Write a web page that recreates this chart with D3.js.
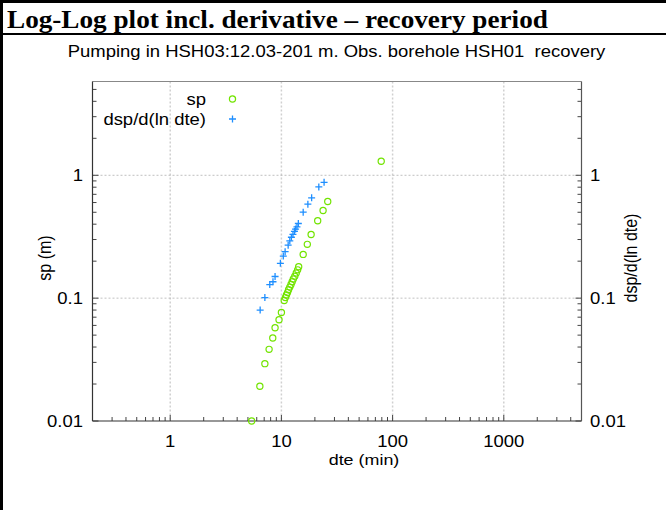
<!DOCTYPE html>
<html><head><meta charset="utf-8">
<script src="https://cdn.jsdelivr.net/npm/d3@7"></script>
<style>body{margin:0;background:#fff} svg{display:block}</style>
</head><body>
<script>
const headerText = "Log-Log plot incl. derivative \u2013 recovery period";
const subtitleText = "Pumping in HSH03:12.03-201 m. Obs. borehole HSH01  recovery";
const xTitle = "dte (min)";
const yTitleLeft = "sp (m)";
const yTitleRight = "dsp/d(ln dte)";
const legendLabels = ["sp", "dsp/d(ln dte)"];

// sp (drawdown) series
const spTime  = [5.4, 6.4, 7.1, 7.75, 8.36, 8.77, 9.52, 10.0, 10.6, 10.85, 11.1, 11.35, 11.6, 11.9, 12.2, 12.5, 12.8, 13.2, 13.6, 14.0, 14.3, 15.7, 17.1, 18.5, 21.2, 23.7, 26.1, 79];
const spValue = [0.0100, 0.0192, 0.0293, 0.0383, 0.0474, 0.0574, 0.0667, 0.0764, 0.0957, 0.101, 0.106, 0.111, 0.117, 0.123, 0.129, 0.136, 0.143, 0.151, 0.160, 0.170, 0.180, 0.227, 0.274, 0.330, 0.426, 0.517, 0.612, 1.30];

// derivative series
const derTime  = [6.44, 7.10, 7.86, 8.4, 8.77, 9.79, 10.4, 10.8, 11.5, 11.9, 12.3, 12.7, 13.1, 13.4, 13.8, 14.2, 15.7, 17.3, 18.7, 21.7, 24.2];
const derValue = [0.080, 0.101, 0.129, 0.136, 0.150, 0.192, 0.220, 0.239, 0.270, 0.293, 0.313, 0.330, 0.349, 0.365, 0.381, 0.405, 0.501, 0.582, 0.655, 0.804, 0.877];

const xTickValues = [1, 10, 100, 1000];
const yTickValues = [0.01, 0.1, 1];
const xDomain = [0.2, 5000];
const yDomain = [0.01, 5.8];

const W = 666, H = 510;
const plot = {left: 92.5, right: 581.5, top: 81.5, bottom: 421};
const green = "#72e400", blue = "#1f8fff";
const SX = 1.155; // horizontal stretch of the sans text
const font = "Liberation Sans, Arial, sans-serif";

const svg = d3.select("body").append("svg").attr("width", W).attr("height", H);
svg.append("rect").attr("width", W).attr("height", H).attr("fill", "#fff");

function label(parent, tx, ty, str, anchor, opts = {}) {
  const rot = opts.rotate ? ` rotate(${opts.rotate})` : "";
  return parent.append("text")
    .attr("transform", `translate(${tx},${ty}) scale(${opts.sx || SX},1)${rot}`)
    .attr("text-anchor", anchor)
    .attr("font-family", opts.family || font)
    .attr("font-size", opts.size || 16)
    .attr("font-weight", opts.weight || "normal")
    .style("white-space", "pre")
    .text(str);
}

// frame
svg.append("line").attr("x1", 0).attr("x2", W).attr("y1", 1.5).attr("y2", 1.5).attr("stroke", "#000").attr("stroke-width", 3);
svg.append("line").attr("x1", 1.5).attr("x2", 1.5).attr("y1", 0).attr("y2", H).attr("stroke", "#000").attr("stroke-width", 3);
svg.append("line").attr("x1", 0).attr("x2", W).attr("y1", 34).attr("y2", 34).attr("stroke", "#000").attr("stroke-width", 2);

label(svg, 7, 28, headerText, "start", {family: "Liberation Serif, Times New Roman, serif", weight: "bold", size: 25, sx: 1.088});
label(svg, 336.5, 57, subtitleText, "middle");

const x = d3.scaleLog().domain(xDomain).range([plot.left, plot.right]);
const y = d3.scaleLog().domain(yDomain).range([plot.bottom, plot.top]);

// grid
svg.append("g").selectAll("line").data(xTickValues).join("line")
  .attr("x1", d => x(d)).attr("x2", d => x(d)).attr("y1", plot.top).attr("y2", plot.bottom)
  .attr("stroke", "#d0d0d0").attr("stroke-width", 1.5).attr("stroke-dasharray", "2,2");
svg.append("g").selectAll("line").data(yTickValues.filter(d => d > yDomain[0])).join("line")
  .attr("x1", plot.left).attr("x2", plot.right).attr("y1", d => y(d)).attr("y2", d => y(d))
  .attr("stroke", "#b0b0b0").attr("stroke-width", 0.8).attr("stroke-dasharray", "2,2");

// minor & major ticks, inward
const xMinor = x.ticks();
const yMinor = y.ticks();
const isMajor = (arr, d) => arr.some(v => Math.abs(v - d) / v < 1e-6);
const tickG = svg.append("g").attr("stroke", "#444").attr("stroke-width", 1);
tickG.selectAll(".xt").data(xMinor).join("line")
  .attr("x1", d => x(d)).attr("x2", d => x(d)).attr("y1", plot.bottom)
  .attr("y2", d => plot.bottom - (isMajor(xTickValues, d) ? 6 : 4));
tickG.selectAll(".yl").data(yMinor).join("line")
  .attr("y1", d => y(d)).attr("y2", d => y(d)).attr("x1", plot.left)
  .attr("x2", d => plot.left + (isMajor(yTickValues, d) ? 6 : 4));
tickG.selectAll(".yr").data(yMinor).join("line")
  .attr("y1", d => y(d)).attr("y2", d => y(d)).attr("x1", plot.right)
  .attr("x2", d => plot.right - (isMajor(yTickValues, d) ? 6 : 4));

// axes lines
svg.append("line").attr("x1", plot.left).attr("x2", plot.right).attr("y1", plot.top).attr("y2", plot.top).attr("stroke", "#888").attr("stroke-width", 1.2);
svg.append("line").attr("x1", plot.left).attr("x2", plot.right).attr("y1", plot.bottom).attr("y2", plot.bottom).attr("stroke", "#333").attr("stroke-width", 1.2);
svg.append("line").attr("x1", plot.left).attr("x2", plot.left).attr("y1", plot.top).attr("y2", plot.bottom).attr("stroke", "#333").attr("stroke-width", 1.2);
svg.append("line").attr("x1", plot.right).attr("x2", plot.right).attr("y1", plot.top).attr("y2", plot.bottom).attr("stroke", "#555").attr("stroke-width", 1.2);

// tick labels
const fmt = d => String(d);
xTickValues.forEach(d => label(svg, x(d), 447, fmt(d), "middle"));
yTickValues.forEach(d => label(svg, 83, y(d) + 6, fmt(d), "end"));
yTickValues.forEach(d => label(svg, 590, y(d) + 6, fmt(d), "start"));

// axis titles
label(svg, 364, 465, xTitle, "middle", {size: 15.5});
label(svg, 51, 258, yTitleLeft, "middle", {rotate: -90});
label(svg, 637, 258, yTitleRight, "middle", {rotate: -90});

// data
const plusPath = "M-3.5,0H3.5M0,-3.5V3.5";
svg.append("g").selectAll("path").data(derTime.map((t, i) => [t, derValue[i]])).join("path")
  .attr("transform", d => `translate(${x(d[0])},${y(d[1])})`).attr("d", plusPath)
  .attr("stroke", blue).attr("stroke-width", 1.3).attr("fill", "none");
svg.append("g").selectAll("circle").data(spTime.map((t, i) => [t, spValue[i]])).join("circle")
  .attr("cx", d => x(d[0])).attr("cy", d => y(d[1])).attr("r", 3.1)
  .attr("stroke", green).attr("stroke-width", 1.2).attr("fill", "none");

// legend
const leg = svg.append("g");
legendLabels.forEach((d, i) => label(leg, 206, 105 + i * 20, d, "end"));
leg.append("circle").attr("cx", 232.5).attr("cy", 99).attr("r", 3.1).attr("stroke", green).attr("stroke-width", 1.2).attr("fill", "none");
leg.append("path").attr("transform", "translate(232.5,119)").attr("d", plusPath).attr("stroke", blue).attr("stroke-width", 1.3).attr("fill", "none");
</script>
</body></html>
